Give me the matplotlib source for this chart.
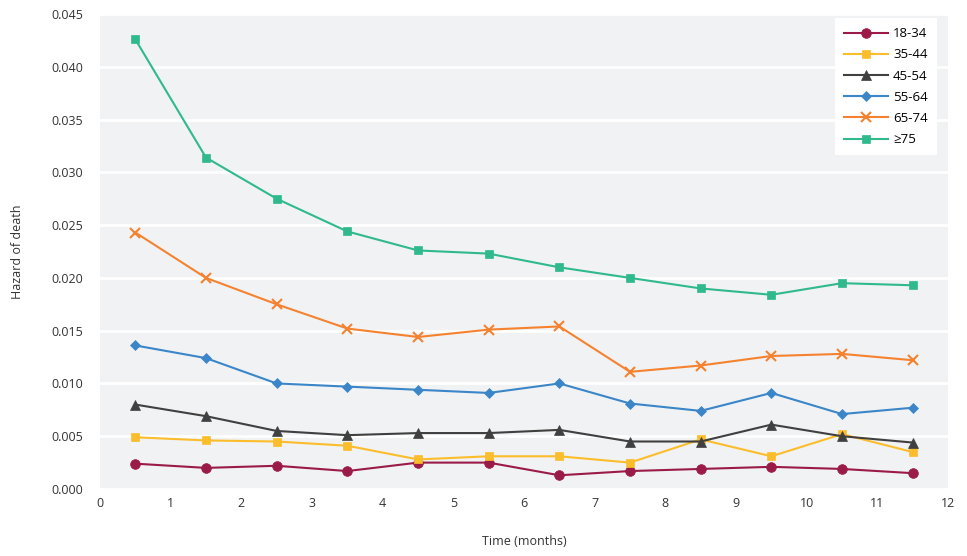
import matplotlib
matplotlib.use('Agg')
import matplotlib.pyplot as plt
from matplotlib.ticker import FormatStrFormatter

months = [0.5, 1.5, 2.5, 3.5, 4.5, 5.5, 6.5, 7.5, 8.5, 9.5, 10.5, 11.5]

age_18_34 = [0.0024, 0.0020, 0.0022, 0.0017, 0.0025, 0.0025, 0.0013, 0.0017, 0.0019, 0.0021, 0.0019, 0.0015]
age_35_44 = [0.0049, 0.0046, 0.0045, 0.0041, 0.0028, 0.0031, 0.0031, 0.0025, 0.0047, 0.0031, 0.0052, 0.0035]
age_45_54 = [0.0080, 0.0069, 0.0055, 0.0051, 0.0053, 0.0053, 0.0056, 0.0045, 0.0045, 0.0061, 0.0050, 0.0044]
age_55_64 = [0.0136, 0.0124, 0.0100, 0.0097, 0.0094, 0.0091, 0.0100, 0.0081, 0.0074, 0.0091, 0.0071, 0.0077]
age_65_74 = [0.0243, 0.0200, 0.0175, 0.0152, 0.0144, 0.0151, 0.0154, 0.0111, 0.0117, 0.0126, 0.0128, 0.0122]
age_75_up = [0.0426, 0.0314, 0.0275, 0.0244, 0.0226, 0.0223, 0.0210, 0.0200, 0.0190, 0.0184, 0.0195, 0.0193]

series = [
    ('18-34', age_18_34, '#9b1b48', 'o', 7),
    ('35-44', age_35_44, '#fbbd2b', 's', 6),
    ('45-54', age_45_54, '#404040', '^', 7),
    ('55-64', age_55_64, '#3a86c8', 'D', 5),
    ('65-74', age_65_74, '#f5822f', 'x', 7),
    ('\u226575', age_75_up, '#2fb98d', 's', 6),
]

plt.rcParams['font.family'] = ['Open Sans', 'DejaVu Sans']

fig = plt.figure(figsize=(9.67, 5.56), dpi=100)
ax = fig.add_axes([0.1034, 0.1205, 0.877, 0.8543])
ax.set_facecolor('#f1f2f4')

for label, vals, color, marker, ms in series:
    ax.plot(months, vals, color=color, marker=marker, markersize=ms, linewidth=1.5,
            markeredgewidth=1.5 if marker == 'x' else 0.5, label=label)

ax.set_xlim(0, 12)
ax.set_ylim(0, 0.045)
ax.set_xticks(range(13))
ax.set_yticks([i * 0.005 for i in range(10)])
ax.yaxis.set_major_formatter(FormatStrFormatter('%.3f'))
ax.grid(axis='y', color='white', linewidth=2)
ax.set_axisbelow(True)
for s in ax.spines.values():
    s.set_visible(False)
ax.tick_params(length=0, labelsize=9, colors='#333333', pad=6)
ax.tick_params(axis='y', pad=12)

ax.set_xlabel('Time (months)', fontsize=9, color='#333333', labelpad=18)
ax.set_ylabel('Hazard of death', fontsize=9, color='#333333', labelpad=20)

leg = ax.legend(loc='upper right', bbox_to_anchor=(0.99, 0.997), fontsize=9.5, frameon=True,
                fancybox=False, edgecolor='white', framealpha=1, handlelength=3.3,
                handletextpad=0.4, labelspacing=0.62, borderpad=0.7, borderaxespad=0.2)
leg.get_frame().set_linewidth(0)

fig.savefig('out.png', dpi=100)
